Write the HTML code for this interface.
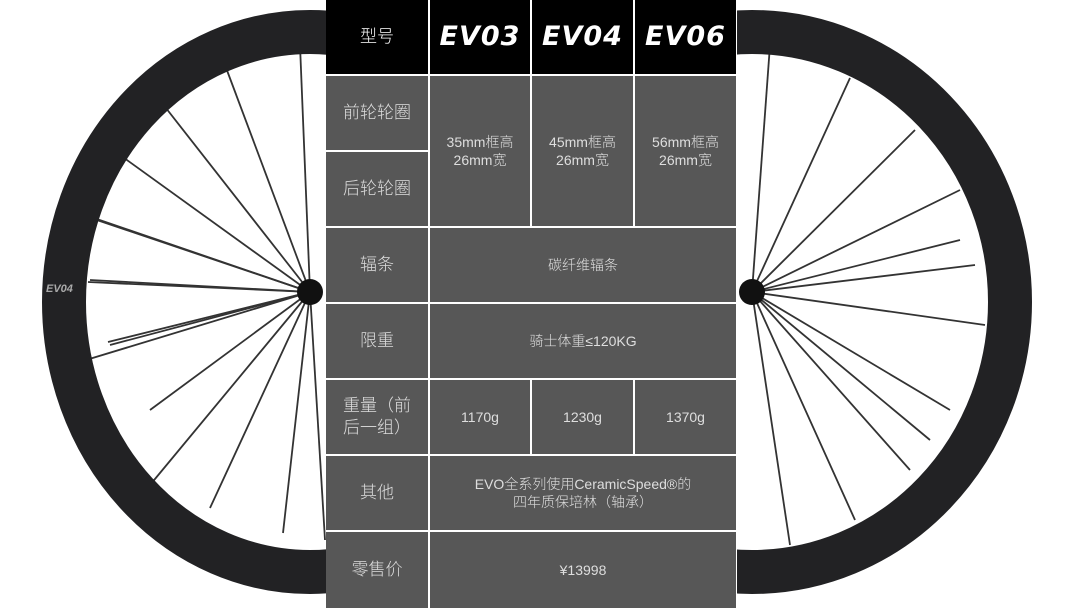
<!DOCTYPE html>
<html><head><meta charset="utf-8"><style>
body{margin:0;width:1080px;height:608px;background:#fff;position:relative;overflow:hidden;font-family:"Liberation Sans","Noto Sans CJK SC",sans-serif}
.c{position:absolute;background:#575757;color:#dedede;display:flex;align-items:center;justify-content:center;text-align:center;font-size:14px;line-height:18px;font-weight:300}
.h{background:#000;color:#fff}
.ev{font-style:italic;font-weight:bold;font-size:27px;letter-spacing:1px;font-family:"DejaVu Sans","Liberation Sans",sans-serif}
.l{font-size:17px;line-height:22px}
</style></head><body>
<svg width="1080" height="608" style="position:absolute;left:0;top:0">
<g stroke="#333" stroke-width="1.8">
<line x1="310" y1="292" x2="85" y2="215"/><line x1="310" y1="292" x2="88" y2="217"/>
<line x1="310" y1="292" x2="120" y2="155"/><line x1="310" y1="292" x2="162" y2="103"/>
<line x1="310" y1="292" x2="225" y2="65"/><line x1="310" y1="292" x2="300" y2="45"/>
<line x1="310" y1="292" x2="90" y2="280"/><line x1="310" y1="292" x2="88" y2="282"/>
<line x1="310" y1="292" x2="86" y2="360"/><line x1="310" y1="292" x2="110" y2="345"/>
<line x1="310" y1="292" x2="150" y2="410"/><line x1="310" y1="292" x2="108" y2="342"/>
<line x1="310" y1="292" x2="210" y2="508"/><line x1="310" y1="292" x2="150" y2="485"/>
<line x1="310" y1="292" x2="283" y2="533"/><line x1="310" y1="292" x2="325" y2="540"/>
<line x1="752" y1="292" x2="770" y2="45"/><line x1="752" y1="292" x2="850" y2="78"/>
<line x1="752" y1="292" x2="915" y2="130"/><line x1="752" y1="292" x2="960" y2="190"/>
<line x1="752" y1="292" x2="975" y2="265"/><line x1="752" y1="292" x2="985" y2="325"/>
<line x1="752" y1="292" x2="950" y2="410"/><line x1="752" y1="292" x2="910" y2="470"/>
<line x1="752" y1="292" x2="855" y2="520"/><line x1="752" y1="292" x2="790" y2="545"/>
<line x1="752" y1="292" x2="960" y2="240"/><line x1="752" y1="292" x2="930" y2="440"/>
</g>
<ellipse cx="310" cy="302" rx="246" ry="270" fill="none" stroke="#222224" stroke-width="44"/>
<ellipse cx="752" cy="302" rx="258" ry="270" fill="none" stroke="#222224" stroke-width="44"/>
<circle cx="310" cy="292" r="13" fill="#111"/><circle cx="752" cy="292" r="13" fill="#111"/>
<text x="46" y="292" fill="#aaa" font-size="11" font-style="italic" font-weight="bold" font-family="Liberation Sans">EV04</text>
</svg>
<div style="position:absolute;left:326px;top:0;width:411px;height:608px;background:#fff"></div>
<div class="c h l" style="left:326px;top:0;width:102px;height:74px">型号</div>
<div class="c h ev" style="left:430px;top:0;width:100px;height:74px">EV03</div>
<div class="c h ev" style="left:532px;top:0;width:101px;height:74px">EV04</div>
<div class="c h ev" style="left:635px;top:0;width:101px;height:74px">EV06</div>
<div class="c l" style="left:326px;top:76px;width:102px;height:74px">前轮轮圈</div>
<div class="c l" style="left:326px;top:152px;width:102px;height:74px">后轮轮圈</div>
<div class="c" style="left:430px;top:76px;width:100px;height:150px">35mm框高<br>26mm宽</div>
<div class="c" style="left:532px;top:76px;width:101px;height:150px">45mm框高<br>26mm宽</div>
<div class="c" style="left:635px;top:76px;width:101px;height:150px">56mm框高<br>26mm宽</div>
<div class="c l" style="left:326px;top:228px;width:102px;height:74px">辐条</div>
<div class="c" style="left:430px;top:228px;width:306px;height:74px">碳纤维辐条</div>
<div class="c l" style="left:326px;top:304px;width:102px;height:74px">限重</div>
<div class="c" style="left:430px;top:304px;width:306px;height:74px">骑士体重≤120KG</div>
<div class="c l" style="left:326px;top:380px;width:102px;height:74px">重量（前<br>后一组）</div>
<div class="c" style="left:430px;top:380px;width:100px;height:74px">1170g</div>
<div class="c" style="left:532px;top:380px;width:101px;height:74px">1230g</div>
<div class="c" style="left:635px;top:380px;width:101px;height:74px">1370g</div>
<div class="c l" style="left:326px;top:456px;width:102px;height:74px">其他</div>
<div class="c" style="left:430px;top:456px;width:306px;height:74px">EVO全系列使用CeramicSpeed®的<br>四年质保培林（轴承）</div>
<div class="c l" style="left:326px;top:532px;width:102px;height:76px">零售价</div>
<div class="c" style="left:430px;top:532px;width:306px;height:76px">¥13998</div>
</body></html>
